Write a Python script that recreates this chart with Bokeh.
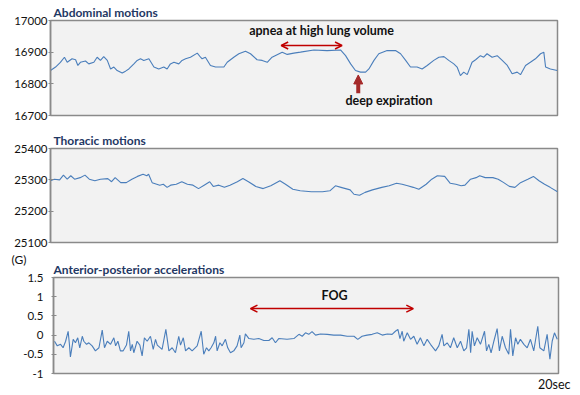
from bokeh.plotting import figure
from bokeh.layouts import column
from bokeh.models import Range1d, FixedTicker, Label, Arrow, OpenHead, NormalHead, Title
from bokeh.embed import file_html
from bokeh.resources import INLINE

# ---------------- data ----------------
abd_t = [0.00, 0.20, 0.39, 0.55, 0.66, 0.85, 0.99, 1.08, 1.18, 1.38, 1.51, 1.71, 1.84, 1.97, 2.10,
         2.24, 2.37, 2.50, 2.63, 2.83, 2.96, 3.09, 3.29, 3.42, 3.55, 3.68, 3.88, 4.08, 4.27, 4.47,
         4.60, 4.73, 4.87, 5.06, 5.19, 5.33, 5.52, 5.79, 5.92, 5.98, 6.11, 6.31, 6.51, 6.84, 6.97,
         7.23, 7.43, 7.69, 7.89, 8.15, 8.35, 8.55, 8.74, 8.94, 9.14, 9.34, 9.60, 9.86, 10.39, 10.91,
         11.44, 11.64, 11.84, 12.03, 12.23, 12.43, 12.56, 12.76, 12.95, 13.28, 13.61, 13.81, 14.01,
         14.20, 14.46, 14.66, 14.86, 15.12, 15.32, 15.52, 15.71, 15.91, 16.04, 16.17, 16.30, 16.44,
         16.63, 16.77, 16.96, 17.09, 17.22, 17.42, 17.62, 17.82, 18.02, 18.21, 18.41, 18.54, 18.74,
         18.93, 19.13, 19.33, 19.46, 19.53, 19.72, 19.99]
abd_v = [16842, 16853, 16868, 16884, 16868, 16879, 16876, 16858, 16868, 16872, 16863, 16868, 16884,
         16874, 16886, 16874, 16847, 16853, 16842, 16834, 16840, 16847, 16863, 16874, 16879, 16874,
         16879, 16853, 16847, 16853, 16847, 16863, 16868, 16863, 16874, 16879, 16884, 16897, 16884,
         16879, 16884, 16858, 16853, 16853, 16868, 16884, 16895, 16903, 16895, 16876, 16874, 16868,
         16884, 16892, 16900, 16893, 16897, 16900, 16907, 16905, 16907, 16889, 16863, 16842, 16837,
         16837, 16847, 16874, 16895, 16905, 16905, 16895, 16874, 16853, 16853, 16847, 16858, 16874,
         16884, 16886, 16874, 16863, 16853, 16826, 16837, 16829, 16868, 16876, 16889, 16884, 16895,
         16884, 16889, 16874, 16858, 16832, 16837, 16829, 16858, 16868, 16879, 16895, 16900, 16853,
         16847, 16842]

tho_t = [0.00, 0.15, 0.36, 0.51, 0.66, 0.80, 0.95, 1.17, 1.36, 1.53, 1.75, 1.97, 2.26, 2.41, 2.55,
         2.77, 2.99, 3.21, 3.43, 3.65, 3.80, 3.87, 4.01, 4.31, 4.45, 4.60, 4.74, 4.96, 5.18, 5.40,
         5.62, 5.84, 6.06, 6.28, 6.42, 6.64, 6.86, 7.08, 7.37, 7.59, 7.81, 8.10, 8.39, 8.69, 9.05,
         9.27, 9.56, 9.85, 10.29, 10.73, 11.02, 11.24, 11.46, 11.82, 11.97, 12.19, 12.41, 12.70,
         13.07, 13.36, 13.65, 13.87, 14.09, 14.31, 14.53, 14.82, 15.04, 15.26, 15.55, 15.77, 15.99,
         16.20, 16.35, 16.57, 16.79, 16.93, 17.15, 17.45, 17.66, 17.88, 18.10, 18.32, 18.54, 18.83,
         19.05, 19.27, 19.49, 19.71, 20.00]
tho_v = [25297, 25302, 25300, 25315, 25302, 25313, 25302, 25307, 25315, 25302, 25297, 25302, 25304,
         25294, 25307, 25291, 25291, 25302, 25311, 25318, 25313, 25318, 25291, 25283, 25286, 25276,
         25283, 25286, 25294, 25286, 25283, 25272, 25283, 25294, 25279, 25283, 25276, 25283, 25294,
         25304, 25294, 25279, 25272, 25281, 25297, 25286, 25270, 25265, 25262, 25262, 25265, 25281,
         25276, 25268, 25254, 25251, 25260, 25268, 25276, 25281, 25289, 25286, 25281, 25276, 25270,
         25286, 25302, 25313, 25311, 25289, 25286, 25281, 25283, 25302, 25307, 25313, 25307, 25307,
         25302, 25291, 25279, 25276, 25291, 25302, 25311, 25297, 25286, 25276, 25262]

acc_t = [0.04, 0.15, 0.28, 0.38, 0.48, 0.58, 0.63, 0.67, 0.78, 0.87, 0.96, 1.04, 1.14, 1.20, 1.31,
         1.40, 1.53, 1.66, 1.80, 1.93, 2.02, 2.13, 2.26, 2.39, 2.46, 2.55, 2.65, 2.76, 2.89, 2.98,
         3.05, 3.12, 3.18, 3.31, 3.42, 3.51, 3.60, 3.71, 3.84, 3.95, 4.04, 4.11, 4.30, 4.45, 4.57,
         4.70, 4.83, 4.96, 5.03, 5.14, 5.23, 5.36, 5.49, 5.69, 5.85, 5.95, 6.06, 6.15, 6.24, 6.35,
         6.42, 6.48, 6.59, 6.68, 6.81, 6.90, 7.01, 7.14, 7.27, 7.38, 7.43, 7.54, 7.60, 7.74, 7.93,
         8.13, 8.33, 8.53, 8.66, 8.79, 8.92, 9.25, 9.52, 9.72, 9.85, 9.98, 10.11, 10.24, 10.38,
         10.57, 10.84, 11.10, 11.37, 11.63, 11.90, 12.05, 12.22, 12.42, 12.62, 12.82, 13.02, 13.22,
         13.41, 13.54, 13.64, 13.72, 13.81, 13.87, 14.01, 14.14, 14.27, 14.40, 14.53, 14.67, 14.80,
         14.93, 15.13, 15.26, 15.39, 15.46, 15.59, 15.72, 15.85, 15.99, 16.12, 16.25, 16.36, 16.45,
         16.52, 16.58, 16.67, 16.78, 16.91, 17.07, 17.15, 17.24, 17.33, 17.44, 17.57, 17.66, 17.77,
         17.90, 18.03, 18.10, 18.19, 18.30, 18.39, 18.49, 18.63, 18.76, 18.89, 19.02, 19.18, 19.26,
         19.42, 19.55, 19.66, 19.75, 19.84, 19.95]
acc_v = [-0.16, -0.28, -0.24, -0.33, -0.16, 0.10, -0.24, -0.57, -0.11, -0.20, -0.07, -0.33, -0.03,
         -0.16, -0.24, -0.20, -0.28, -0.41, -0.33, 0.13, -0.33, -0.16, -0.24, -0.07, -0.28, -0.16,
         -0.41, -0.41, -0.26, 0.10, -0.41, -0.24, -0.46, -0.16, -0.26, -0.54, -0.07, -0.16, -0.03,
         -0.37, -0.11, -0.26, -0.37, 0.15, -0.41, -0.33, -0.46, -0.03, -0.26, -0.07, -0.41, -0.33,
         -0.41, -0.28, 0.10, -0.50, -0.33, -0.41, -0.33, -0.20, -0.03, -0.41, -0.20, -0.28, -0.11,
         -0.33, -0.46, -0.41, -0.28, 0.00, -0.33, -0.20, 0.03, -0.09, -0.11, -0.09, -0.14, -0.14,
         -0.07, -0.20, -0.09, -0.11, -0.09, 0.02, -0.03, 0.06, 0.02, 0.09, 0.00, 0.03, 0.02, 0.00,
         0.00, -0.03, -0.03, -0.11, -0.03, 0.00, 0.02, 0.06, 0.00, 0.03, 0.02, 0.10, 0.15, -0.09,
         0.10, -0.16, 0.06, -0.11, -0.03, -0.24, -0.07, -0.28, -0.11, -0.24, -0.41, -0.28, 0.02,
         -0.28, -0.20, -0.33, -0.07, -0.33, -0.16, -0.41, -0.33, 0.15, -0.46, 0.10, -0.28, -0.07,
         -0.24, 0.10, -0.41, -0.24, -0.46, -0.16, 0.17, -0.41, -0.03, -0.33, -0.50, 0.15, -0.54,
         -0.07, -0.24, -0.11, -0.24, -0.33, -0.11, -0.41, 0.23, -0.33, -0.41, 0.02, -0.63, -0.16,
         0.06, -0.11]

abd_ticks = [16700, 16800, 16900, 17000]
tho_ticks = [25100, 25200, 25300, 25400]
acc_ticks = [-1, -0.5, 0, 0.5, 1, 1.5]
acc_tick_labels = ["-1", "-0.5", "0", "0.5", "1", "1.5"]

# ---------------- style ----------------
FONT = "Lato"
LINE = "#4a7ebb"
FRAME = "#8a8a8a"
BG = "#f2f2f2"
NAVY = "#1f3864"
RED = "#c00000"
DARKRED = "#a52a2a"
INK = "#111111"
W = 580


def make_fig(h, top, bottom, left, right, yr, ticks, standoff):
    p = figure(width=W, height=h, output_backend="svg", toolbar_location=None,
               x_range=Range1d(0, 20), y_range=Range1d(*yr), x_axis_location=None,
               frame_align=False)
    p.min_border_top = top
    p.min_border_bottom = bottom
    p.min_border_left = left
    p.min_border_right = right
    p.background_fill_color = BG
    p.border_fill_color = "white"
    p.outline_line_color = FRAME
    p.outline_line_width = 1.5
    p.grid.visible = False
    ax = p.yaxis[0]
    ax.ticker = FixedTicker(ticks=ticks)
    ax.minor_tick_line_color = None
    ax.major_tick_in = 3
    ax.major_tick_out = 2
    ax.major_tick_line_color = FRAME
    ax.axis_line_color = FRAME
    ax.axis_line_width = 1.5
    ax.major_label_text_font = FONT
    ax.major_label_text_font_size = "11.5px"
    ax.major_label_text_color = INK
    ax.major_label_standoff = standoff
    return p


def panel_title(p, text, offset=3):
    p.add_layout(Title(text=text, align="left", offset=offset, standoff=1,
                       text_font=FONT, text_font_style="bold", text_font_size="12px",
                       text_color=NAVY), "above")


# Panel 1: abdominal
p1 = make_fig(121, 20, 6, 50, 23, (16700, 17000), abd_ticks, 1)
panel_title(p1, "Abdominal motions")
p1.line(abd_t, abd_v, line_color=LINE, line_width=1.1)
p1.add_layout(Arrow(start=OpenHead(size=7, line_color=RED, line_width=1.5),
                    end=OpenHead(size=7, line_color=RED, line_width=1.5),
                    x_start=9.10, y_start=16921, x_end=11.50, y_end=16921,
                    line_color=RED, line_width=1.5))
p1.add_layout(Label(x=10.7, y=16968, text="apnea at high lung volume", text_font=FONT,
                    text_font_style="bold", text_font_size="12.5px", text_color=INK,
                    text_align="center", text_baseline="middle"))
p1.add_layout(Arrow(end=NormalHead(size=9, fill_color=DARKRED, line_color=DARKRED),
                    x_start=12.14, y_start=16770, x_end=12.14, y_end=16828,
                    line_color=DARKRED, line_width=4))
p1.add_layout(Label(x=13.35, y=16746, text="deep expiration", text_font=FONT,
                    text_font_style="bold", text_font_size="12.5px", text_color=INK,
                    text_align="center", text_baseline="middle"))

# Panel 2: thoracic
p2 = make_fig(127, 27, 6, 50, 23, (25100, 25400), tho_ticks, 1)
panel_title(p2, "Thoracic motions")
p2.line(tho_t, tho_v, line_color=LINE, line_width=1.1)

# Panel 3: accelerations
p3 = make_fig(147, 29, 22, 53, 22, (-1, 1.5), acc_ticks, 8)
panel_title(p3, "Anterior-posterior  accelerations", offset=0)
p3.add_layout(Title(text="(G)", align="left", offset=-42, standoff=-14,
                    text_font=FONT, text_font_style="normal", text_font_size="12px",
                    text_color=INK), "above")
p3.yaxis[0].major_label_overrides = {t: s for t, s in zip(acc_ticks, acc_tick_labels)}
p3.line(acc_t, acc_v, line_color=LINE, line_width=1.1)
p3.add_layout(Arrow(start=OpenHead(size=7, line_color=RED, line_width=1.5),
                    end=OpenHead(size=7, line_color=RED, line_width=1.5),
                    x_start=7.80, y_start=0.69, x_end=14.25, y_end=0.69,
                    line_color=RED, line_width=1.5))
p3.add_layout(Label(x=11.13, y=1.03, text="FOG", text_font=FONT,
                    text_font_style="bold", text_font_size="12.5px", text_color=INK,
                    text_align="center", text_baseline="middle"))
p3.add_layout(Title(text="20sec", align="right", offset=-12, standoff=2,
                    text_font=FONT, text_font_style="normal", text_font_size="12.5px",
                    text_color=INK), "below")

layout = column(p1, p2, p3, spacing=0)
open("out.html", "w").write(file_html(layout, INLINE))
